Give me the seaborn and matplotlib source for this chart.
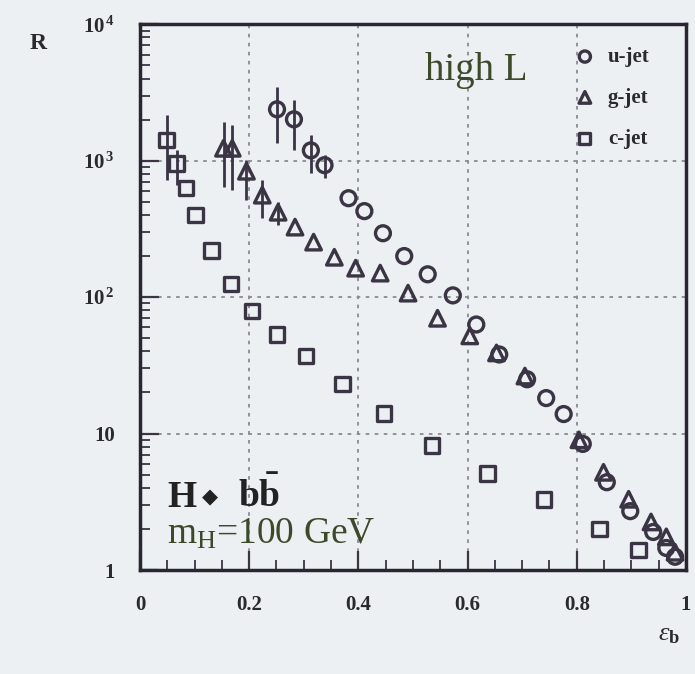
import numpy as np
import pandas as pd
import matplotlib
matplotlib.use("Agg")
import matplotlib.pyplot as plt
import seaborn as sns
from matplotlib.ticker import MultipleLocator, LogLocator, NullFormatter

# ---------------- data ----------------
u_eff = [0.251, 0.282, 0.313, 0.338, 0.382, 0.411, 0.445, 0.484, 0.527, 0.573,
         0.616, 0.658, 0.709, 0.744, 0.776, 0.811, 0.855, 0.898, 0.940, 0.964, 0.980]
u_rej = [2380, 2010, 1190, 927, 531, 427, 294, 200, 147, 103,
         63, 38, 25, 18.2, 13.9, 8.4, 4.4, 2.7, 1.9, 1.45, 1.25]
u_lo = [1343, 1194, 810, 743] + [np.nan] * 17
u_hi = [3453, 2775, 1537, 1097] + [np.nan] * 17

g_eff = [0.153, 0.169, 0.195, 0.224, 0.253, 0.284, 0.318, 0.356, 0.395, 0.440,
         0.491, 0.545, 0.604, 0.653, 0.705, 0.804, 0.849, 0.895, 0.936, 0.964, 0.980]
g_rej = [1233, 1233, 837, 559, 419, 326, 253, 196, 163, 150,
         107, 70, 52, 39, 26.4, 9.0, 5.2, 3.3, 2.25, 1.75, 1.35]
g_lo = [640, 608, 514, 379, 340] + [np.nan] * 16
g_hi = [1914, 1820, 1009, 720, 500] + [np.nan] * 16

c_eff = [0.049, 0.067, 0.084, 0.102, 0.131, 0.167, 0.205, 0.251, 0.304, 0.371,
         0.447, 0.535, 0.636, 0.740, 0.842, 0.913]
c_rej = [1413, 955, 630, 400, 220, 125, 79, 53, 37, 23,
         14, 8.2, 5.1, 3.3, 2.0, 1.4]
c_lo = [720, 661] + [np.nan] * 14
c_hi = [2154, 1194] + [np.nan] * 14

series_names = ["u-jet", "g-jet", "c-jet"]
x_ticks = [0, 0.2, 0.4, 0.6, 0.8, 1]
x_ticklabels = ["0", "0.2", "0.4", "0.6", "0.8", "1"]
y_ticks = [1, 10, 100, 1000, 10000]
y_ticklabels = ["1", "10", r"$\mathbf{10}^{\,\mathbf{2}}$", r"$\mathbf{10}^{\,\mathbf{3}}$",
                r"$\mathbf{10}^{\,\mathbf{4}}$"]

# ---------------- style ----------------
BG = "#edf0f3"
INK = "#3a3444"
GREEN = "#3d4a2a"

sns.set_style("ticks")
plt.rcParams["font.family"] = ["Liberation Serif", "DejaVu Sans"]
plt.rcParams["mathtext.fontset"] = "custom"
plt.rcParams["mathtext.rm"] = "Liberation Serif"
plt.rcParams["mathtext.bf"] = "Liberation Serif:bold"
plt.rcParams["mathtext.it"] = "Liberation Serif:italic"

fig = plt.figure(figsize=(6.95, 6.74), dpi=100, facecolor=BG)
ax = fig.add_axes([0.2014, 0.1543, 0.7856, 0.8097], facecolor=BG)

frames = []
for name, xs, ys, lo, hi in [("u-jet", u_eff, u_rej, u_lo, u_hi),
                             ("g-jet", g_eff, g_rej, g_lo, g_hi),
                             ("c-jet", c_eff, c_rej, c_lo, c_hi)]:
    frames.append(pd.DataFrame({"eff": xs, "rej": ys, "lo": lo, "hi": hi, "jet": name}))
df = pd.concat(frames, ignore_index=True)

markers = {"u-jet": "o", "g-jet": "^", "c-jet": "s"}
sizes = {"u-jet": 115, "g-jet": 125, "c-jet": 110}

for name in series_names:
    d = df[df["jet"] == name]
    e = d.dropna(subset=["lo", "hi"])
    if len(e):
        ax.errorbar(e["eff"], e["rej"],
                    yerr=[e["rej"] - e["lo"], e["hi"] - e["rej"]],
                    fmt="none", ecolor=INK, elinewidth=2.0, capsize=0, zorder=3)
    sns.scatterplot(data=d, x="eff", y="rej", marker=markers[name], s=sizes[name],
                    facecolor="none", edgecolor=INK, linewidth=2.4,
                    ax=ax, zorder=4, label=name, legend=False)

ax.set_yscale("log")
ax.set_xlim(0, 1)
ax.set_ylim(1, 10000)

ax.set_xticks(x_ticks)
ax.set_xticklabels(x_ticklabels)
ax.set_yticks(y_ticks)
ax.set_yticklabels(y_ticklabels)
ax.xaxis.set_minor_locator(MultipleLocator(0.05))
ax.yaxis.set_minor_locator(LogLocator(base=10, subs=np.arange(2, 10)))
ax.yaxis.set_minor_formatter(NullFormatter())

ax.tick_params(axis="both", which="major", direction="in", length=14, width=1.6,
               colors=INK, labelcolor="#2a2a2a", labelsize=15, pad=18)
ax.tick_params(axis="both", which="minor", direction="in", length=7, width=1.3, colors=INK)
for lab in ax.get_xticklabels() + ax.get_yticklabels():
    lab.set_fontweight("bold")

ax.grid(True, which="major", linestyle=(0, (2, 3)), color="#8a8a92", linewidth=1.3)

for sp in ax.spines.values():
    sp.set_linewidth(2.5)
    sp.set_color("#2a2530")

ax.set_xlabel("")
ax.set_ylabel("")

# axis titles
fig.text(0.055, 0.935, "R", fontsize=17, fontweight="bold", color="#2a2a2a",
         ha="center", va="center")
fig.text(0.962, 0.058, r"$\varepsilon_{\mathbf{b}}$", fontsize=19, color="#2a2a2a",
         ha="center", va="center")

# annotations
ax.text(0.615, 0.897, "high L", transform=ax.transAxes, fontsize=28, color=GREEN,
        ha="center", va="baseline")

ax.text(0.05, 0.115, "H", transform=ax.transAxes, fontsize=27, fontweight="bold",
        color="#222222", ha="left", va="baseline")
ax.text(0.128, 0.133, "◆", transform=ax.transAxes, fontsize=15, color="#222222",
        ha="center", va="center", family=["DejaVu Sans"])
ax.text(0.18, 0.115, r"$\mathbf{b\bar{b}}$", transform=ax.transAxes, fontsize=27,
        color="#222222", ha="left", va="baseline")

ax.text(0.05, 0.049, r"m$_{\mathrm{H}}$=100 GeV", transform=ax.transAxes, fontsize=27,
        color=GREEN, ha="left", va="baseline")

leg = ax.legend(loc="upper right", bbox_to_anchor=(0.96, 0.985), frameon=False,
                markerscale=0.75, handlelength=1.2, handletextpad=0.5,
                labelspacing=1.0, borderaxespad=0.3,
                prop={"weight": "bold", "size": 15})
for t in leg.get_texts():
    t.set_color("#2a2a2a")

fig.savefig("out.png", dpi=100, facecolor=BG)
